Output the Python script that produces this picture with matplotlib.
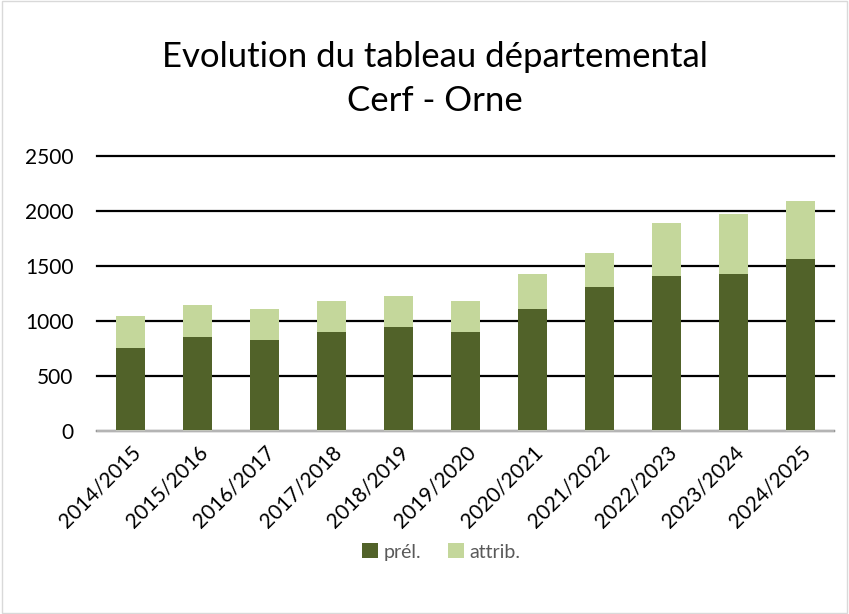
import matplotlib.pyplot as plt
from matplotlib.patches import Rectangle

# Data
seasons = ['2014/2015', '2015/2016', '2016/2017', '2017/2018', '2018/2019',
           '2019/2020', '2020/2021', '2021/2022', '2022/2023', '2023/2024',
           '2024/2025']
prel = [758, 851, 824, 897, 945, 897, 1112, 1309, 1409, 1427, 1567]
attrib = [290, 297, 288, 282, 279, 288, 312, 312, 479, 546, 521]

plt.rcParams['font.family'] = ['Lato', 'DejaVu Sans']

fig = plt.figure(figsize=(8.49, 6.14), dpi=100)
ax = fig.add_axes([97 / 849, 1 - 431 / 614, (834 - 97) / 849, (431 - 156) / 614])

x = range(len(seasons))
ax.bar(x, prel, width=0.43, color='#516229', label='prél.', zorder=3)
ax.bar(x, attrib, width=0.43, bottom=prel, color='#C4D79B', label='attrib.', zorder=3)

ax.set_xlim(-0.5, len(seasons) - 0.5)
ax.set_ylim(0, 2500)
ax.set_yticks([0, 500, 1000, 1500, 2000, 2500])
ax.yaxis.grid(True, color='black', linewidth=1.6, zorder=0)
for gl in ax.get_ygridlines():
    gl.set_clip_on(False)
ax.set_axisbelow(True)
for side in ['top', 'right', 'left']:
    ax.spines[side].set_visible(False)
ax.spines['bottom'].set_color('#d9d9d9')
ax.spines['bottom'].set_linewidth(1.2)
ax.spines['bottom'].set_zorder(4)
ax.tick_params(axis='both', length=0, labelsize=15, colors='black')
ax.tick_params(axis='y', pad=17)
ax.tick_params(axis='x', pad=8)
ax.set_xticks(list(x))
ax.set_xticklabels(seasons, rotation=45, ha='right', rotation_mode='anchor')

fig.text(0.512, 1 - 57 / 614, 'Evolution du tableau départemental', ha='center',
         va='center', fontsize=25)
fig.text(0.512, 1 - 101 / 614, 'Cerf - Orne', ha='center', va='center', fontsize=25)

fig.legend(loc='center', bbox_to_anchor=(0.52, 1 - 552 / 614), ncol=2,
           frameon=False, fontsize=14, handlelength=0.8, handleheight=0.8,
           handletextpad=0.3, columnspacing=1.4, labelcolor='#595959')

fig.patches.append(Rectangle((0.002, 0.002), 0.996, 0.996, transform=fig.transFigure,
                             fill=False, edgecolor='#d9d9d9', linewidth=1))

fig.savefig('out.png', dpi=100)
